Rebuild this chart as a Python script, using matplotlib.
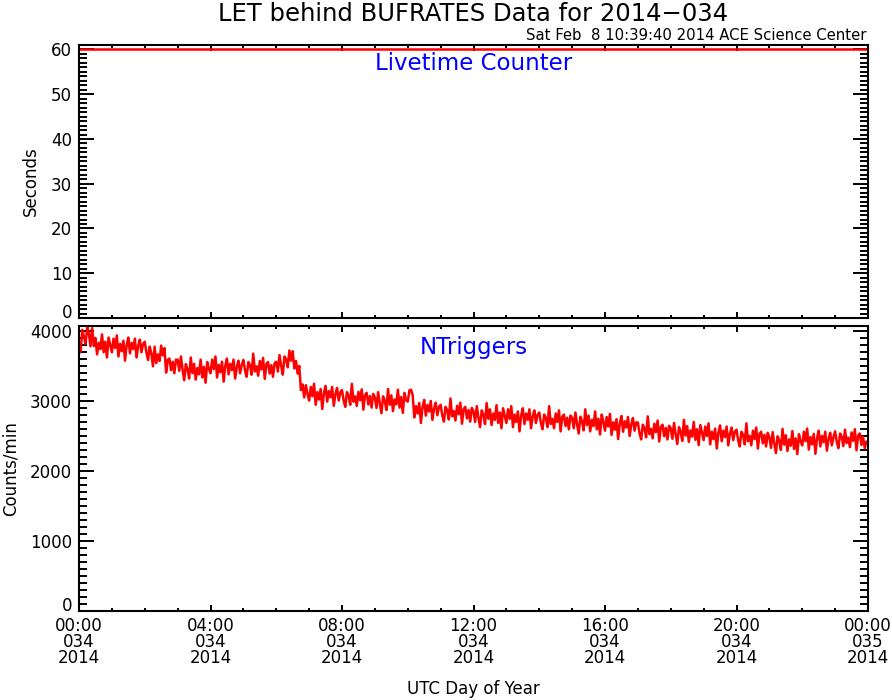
import numpy as np
import matplotlib
matplotlib.use("Agg")
import matplotlib.pyplot as plt
from matplotlib.ticker import MultipleLocator
from matplotlib.transforms import ScaledTranslation

# ---------------- data ----------------
# Livetime counter (seconds), hourly samples
live_hours = [0, 4, 8, 12, 16, 20, 24]
live_values = [60.0, 60.0, 60.0, 60.0, 60.0, 60.0, 60.0]

# NTriggers (counts/min), 3-minute samples, one row per hour
ntrig_values = [
    3680, 3710, 4015, 3920, 3815, 4055, 3965, 3780, 4040, 3785, 3900, 3665, 3830, 3740, 3950, 3695, 3845, 3620, 3905, 3800,
    3695, 3890, 3755, 3935, 3635, 3815, 3710, 3860, 3575, 3800, 3905, 3680, 3830, 3740, 3890, 3620, 3785, 3875, 3695, 3815,
    3845, 3695, 3585, 3775, 3680, 3495, 3775, 3540, 3665, 3570, 3790, 3650, 3755, 3405, 3585, 3605, 3440, 3560, 3395, 3590,
    3590, 3430, 3635, 3450, 3295, 3525, 3455, 3320, 3620, 3395, 3530, 3305, 3470, 3380, 3590, 3335, 3485, 3260, 3555, 3460,
    3395, 3590, 3455, 3635, 3335, 3515, 3410, 3560, 3275, 3500, 3605, 3380, 3530, 3440, 3590, 3320, 3485, 3575, 3395, 3515,
    3585, 3435, 3345, 3555, 3510, 3375, 3675, 3420, 3495, 3360, 3570, 3450, 3615, 3315, 3525, 3555, 3390, 3510, 3345, 3540,
    3560, 3420, 3655, 3500, 3375, 3635, 3595, 3480, 3720, 3575, 3710, 3465, 3570, 3390, 3500, 3155, 3235, 3050, 3225, 3100,
    3005, 3200, 3065, 3245, 2945, 3125, 3020, 3170, 2885, 3110, 3215, 2990, 3140, 3050, 3200, 2930, 3095, 3185, 3005, 3125,
    3155, 3005, 2915, 3125, 3080, 2945, 3245, 2990, 3065, 2930, 3130, 3010, 3165, 2875, 3085, 3115, 2950, 3070, 2905, 3100,
    3050, 2900, 3125, 2960, 2825, 3065, 3005, 2870, 3170, 2945, 3080, 2855, 3020, 2950, 3160, 2905, 3055, 2830, 3115, 3010,
    2990, 3150, 3160, 3080, 2765, 2925, 2820, 2970, 2685, 2910, 3015, 2790, 2940, 2850, 3000, 2730, 2890, 2975, 2795, 2915,
    2945, 2795, 2705, 2915, 2870, 2735, 3035, 2780, 2855, 2720, 2930, 2810, 2975, 2675, 2885, 2915, 2750, 2870, 2705, 2900,
    2850, 2700, 2925, 2760, 2625, 2865, 2805, 2670, 2970, 2745, 2880, 2655, 2820, 2730, 2940, 2685, 2835, 2610, 2895, 2790,
    2685, 2880, 2745, 2925, 2625, 2805, 2700, 2850, 2565, 2790, 2895, 2670, 2820, 2730, 2880, 2610, 2775, 2865, 2685, 2805,
    2835, 2685, 2595, 2805, 2760, 2625, 2925, 2670, 2745, 2610, 2820, 2700, 2865, 2565, 2775, 2805, 2640, 2760, 2595, 2790,
    2760, 2610, 2835, 2670, 2535, 2775, 2715, 2580, 2880, 2655, 2790, 2565, 2730, 2640, 2850, 2595, 2745, 2520, 2805, 2700,
    2575, 2770, 2635, 2815, 2515, 2695, 2590, 2740, 2455, 2680, 2785, 2560, 2710, 2620, 2770, 2500, 2665, 2755, 2575, 2695,
    2690, 2540, 2450, 2660, 2615, 2480, 2780, 2525, 2600, 2465, 2675, 2555, 2720, 2420, 2630, 2660, 2495, 2615, 2450, 2645,
    2610, 2460, 2685, 2520, 2385, 2625, 2565, 2430, 2730, 2505, 2640, 2415, 2580, 2490, 2700, 2445, 2595, 2370, 2655, 2550,
    2440, 2635, 2500, 2680, 2380, 2560, 2455, 2605, 2320, 2545, 2650, 2425, 2575, 2485, 2635, 2365, 2530, 2620, 2440, 2560,
    2590, 2440, 2350, 2560, 2515, 2380, 2680, 2425, 2500, 2365, 2575, 2455, 2620, 2320, 2530, 2560, 2395, 2515, 2350, 2545,
    2480, 2330, 2555, 2390, 2255, 2495, 2435, 2300, 2600, 2375, 2510, 2285, 2450, 2360, 2570, 2315, 2465, 2240, 2525, 2420,
    2365, 2560, 2425, 2605, 2305, 2485, 2380, 2530, 2245, 2470, 2575, 2350, 2500, 2410, 2560, 2290, 2455, 2545, 2365, 2485,
    2565, 2415, 2325, 2535, 2490, 2355, 2590, 2400, 2475, 2340, 2550, 2430, 2595, 2295, 2505, 2535, 2370, 2490, 2325, 2420,
    2380,
]
ntrig_hours = np.arange(len(ntrig_values)) * 3 / 60.0

xtick_pos = [0, 4, 8, 12, 16, 20, 24]
xtick_labels = ["00:00\n034\n2014", "04:00\n034\n2014", "08:00\n034\n2014",
                "12:00\n034\n2014", "16:00\n034\n2014", "20:00\n034\n2014",
                "00:00\n035\n2014"]

title = "LET behind BUFRATES Data for 2014\u2212034"
stamp = "Sat Feb  8 10:39:40 2014 ACE Science Center"

# ---------------- figure ----------------
plt.rcParams['font.family'] = ['DejaVu Sans']
W, H = 892, 700
fig = plt.figure(figsize=(W / 100, H / 100), dpi=100)

def ax_rect(x0, y0, x1, y1):
    return [x0 / W, 1 - y1 / H, (x1 - x0) / W, (y1 - y0) / H]

ax1 = fig.add_axes(ax_rect(79, 45, 868, 318))
ax2 = fig.add_axes(ax_rect(79, 326, 868, 611))

for ax in (ax1, ax2):
    for sp in ax.spines.values():
        sp.set_linewidth(1.5)
    ax.set_xlim(0, 24)
    ax.xaxis.set_major_locator(MultipleLocator(4))
    ax.xaxis.set_minor_locator(MultipleLocator(1))
    ax.tick_params(axis='x', which='major', direction='in', length=4.5, width=1.4,
                   top=True, bottom=True)
    ax.tick_params(axis='x', which='minor', direction='in', length=2.2, width=1.4,
                   top=True, bottom=True)
    ax.tick_params(axis='y', which='major', direction='in', length=11, width=1.4,
                   left=True, right=True, labelsize=12, pad=5)
    ax.tick_params(axis='y', which='minor', direction='in', length=5.5, width=1.4,
                   left=True, right=True)

# top panel
ax1.plot(live_hours, live_values, color='red', lw=1.8)
ax1.set_ylim(0, 61)
ax1.set_yticks([0, 10, 20, 30, 40, 50, 60])
ax1.yaxis.set_minor_locator(MultipleLocator(1))
ax1.set_xticks(xtick_pos)
ax1.set_xticklabels([])
ax1.set_ylabel("Seconds", fontsize=12)
ax1.yaxis.set_label_coords((40 - 79) / 789, 0.5)
ax1.text(0.5, 0.933, "Livetime Counter", transform=ax1.transAxes, color='blue',
         fontsize=16.5, ha='center', va='center')

# bottom panel
ax2.plot(ntrig_hours, ntrig_values, color='red', lw=1.8)
ax2.set_ylim(0, 4070)
ax2.set_yticks([0, 1000, 2000, 3000, 4000])
ax2.yaxis.set_minor_locator(MultipleLocator(100))
ax2.set_xticks(xtick_pos)
ax2.set_xticklabels(xtick_labels, fontsize=12, linespacing=0.88)
ax2.tick_params(axis='x', which='major', pad=4)
ax2.set_ylabel("Counts/min", fontsize=12)
ax2.yaxis.set_label_coords((20 - 79) / 789, 0.5)
ax2.set_xlabel("UTC Day of Year", fontsize=12, labelpad=9)
ax2.text(0.5, 0.925, "NTriggers", transform=ax2.transAxes, color='blue',
         fontsize=16.5, ha='center', va='center')

# lift the "0" labels like the original (IDL) layout
shift = ScaledTranslation(0, 5 / 72, fig.dpi_scale_trans)
for ax in (ax1, ax2):
    t0 = ax.yaxis.get_major_ticks()[0]
    t0.label1.set_transform(t0.label1.get_transform() + shift)

fig.text(473.5 / W, 1 - 14 / H, title, fontsize=17.5, ha='center', va='center')
fig.text(866 / W, 1 - 36 / H, stamp, fontsize=10.7, ha='right', va='center')

fig.savefig("out.png", dpi=100)
